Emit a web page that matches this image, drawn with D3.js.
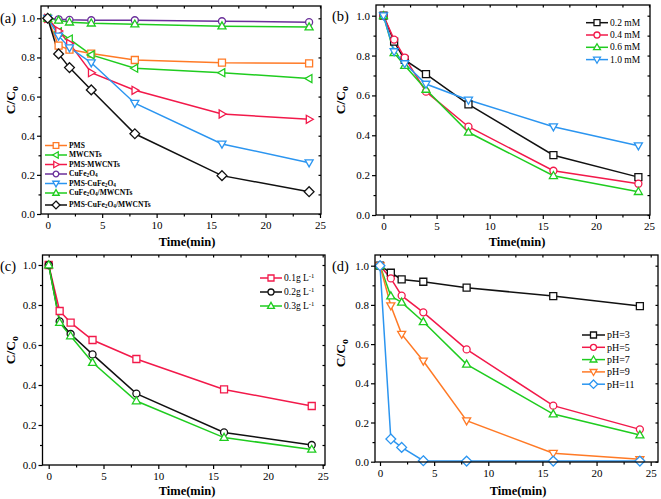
<!DOCTYPE html>
<html><head><meta charset="utf-8">
<script src="https://cdn.jsdelivr.net/npm/d3@7"></script>
<style>body{margin:0;background:#fff}svg{display:block}</style>
</head><body><svg id="c" width="661" height="499"></svg>
<script>
// ---------- data ----------
const times = [0, 1, 2, 4, 8, 16, 24];
const xTicks = [0, 5, 10, 15, 20, 25];
const xMinor = [2.5, 7.5, 12.5, 17.5, 22.5];
const yTicks = [0, 0.2, 0.4, 0.6, 0.8, 1.0];
const yMinor = [0.1, 0.3, 0.5, 0.7, 0.9];
const yTickLabels = ["0.0", "0.2", "0.4", "0.6", "0.8", "1.0"];

// (a)
const aPMS        = [1.0, 0.86, 0.84, 0.82, 0.787, 0.773, 0.77];
const aMWCNTs     = [1.0, 0.93, 0.894, 0.813, 0.745, 0.722, 0.692];
const aPMSMWCNTs  = [1.0, 0.935, 0.872, 0.722, 0.632, 0.511, 0.484];
const aCuFe       = [1.0, 0.995, 0.992, 0.99, 0.99, 0.985, 0.98];
const aPMSCuFe    = [1.0, 0.91, 0.85, 0.773, 0.566, 0.358, 0.262];
const aCuFeMW     = [1.0, 0.99, 0.98, 0.975, 0.97, 0.96, 0.955];
const aPMSCuFeMW  = [1.0, 0.818, 0.748, 0.634, 0.41, 0.196, 0.114];
const aNames = ["PMS", "MWCNTs", "PMS-MWCNTs", "CuFe|2|O|4|", "PMS-CuFe|2|O|4|", "CuFe|2|O|4|/MWCNTs", "PMS-CuFe|2|O|4|/MWCNTs"];

// (b)
const b02 = [1.0, 0.87, 0.778, 0.707, 0.555, 0.30, 0.19];
const b04 = [1.0, 0.88, 0.79, 0.619, 0.443, 0.222, 0.157];
const b06 = [1.0, 0.814, 0.75, 0.63, 0.415, 0.197, 0.117];
const b10 = [1.0, 0.82, 0.76, 0.657, 0.577, 0.443, 0.348];
const bNames = ["0.2 mM", "0.4 mM", "0.6 mM", "1.0 mM"];

// (c)
const c01 = [1.0, 0.77, 0.712, 0.625, 0.53, 0.378, 0.295];
const c02 = [1.0, 0.718, 0.655, 0.553, 0.357, 0.163, 0.10];
const c03 = [1.0, 0.712, 0.645, 0.512, 0.32, 0.137, 0.078];
const cNames = ["0.1g L^-1^", "0.2g L^-1^", "0.3g L^-1^"];

// (d)
const dpH3  = [1.0, 0.964, 0.93, 0.918, 0.888, 0.845, 0.794];
const dpH5  = [1.0, 0.935, 0.847, 0.762, 0.573, 0.286, 0.165];
const dpH7  = [1.0, 0.845, 0.813, 0.714, 0.497, 0.243, 0.136];
const dpH9  = [1.0, 0.796, 0.651, 0.514, 0.209, 0.043, 0.012];
const dpH11 = [1.0, 0.116, 0.073, 0.005, 0.003, 0.003, 0.003];
const dNames = ["pH=3", "pH=5", "pH=7", "pH=9", "pH=11"];

// ---------- styles ----------
const COL = {black:"#111111", red:"#f2194a", green:"#1fcc1f", blue:"#2b95f0", orange:"#ff7a26", purple:"#6a2f9a"};
const FONT = "'Liberation Serif','Times New Roman',serif";

function symPath(type, r) {
  switch (type) {
    case "square": return `M${-r},${-r}h${2*r}v${2*r}h${-2*r}Z`;
    case "circle": return `M${r},0A${r},${r} 0 1 1 ${-r},0A${r},${r} 0 1 1 ${r},0Z`;
    case "up": return `M0,${-r*1.2}L${r*1.15},${r*0.8}L${-r*1.15},${r*0.8}Z`;
    case "down": return `M0,${r*1.2}L${r*1.15},${-r*0.8}L${-r*1.15},${-r*0.8}Z`;
    case "left": return `M${-r*1.2},0L${r*0.8},${-r*1.15}L${r*0.8},${r*1.15}Z`;
    case "right": return `M${r*1.2},0L${-r*0.8},${-r*1.15}L${-r*0.8},${r*1.15}Z`;
    case "diamond": return `M0,${-r*1.4}L${r*1.4},0L0,${r*1.4}L${-r*1.4},0Z`;
  }
}

// write label with |sub| and ^sup^ markup
function richText(sel, str) {
  const parts = str.split(/(\|[^|]*\||\^[^^]*\^)/).filter(s => s.length);
  parts.forEach(p => {
    if (p[0] === "|") sel.append("tspan").attr("baseline-shift", "-28%").attr("font-size", "0.7em").text(p.slice(1, -1));
    else if (p[0] === "^") sel.append("tspan").attr("baseline-shift", "45%").attr("font-size", "0.7em").text(p.slice(1, -1));
    else sel.append("tspan").text(p);
  });
}

const svg = d3.select("#c");

function panel(cfg) {
  const g = svg.append("g");
  const x = d3.scaleLinear().domain([0, 25]).range([cfg.x0, cfg.x25]);
  const y = d3.scaleLinear().domain([0, 1]).range([cfg.y0, cfg.y1]);

  // axes
  const styleAxis = a => {
    a.select(".domain").remove();
    a.selectAll("line").attr("stroke", "#000").attr("stroke-width", 1.2);
    a.selectAll("text").attr("font-family", FONT).attr("font-size", 11).attr("fill", "#000");
  };
  g.append("g").attr("transform", `translate(0,${cfg.B})`)
    .call(d3.axisBottom(x).tickValues(xTicks).tickSize(4).tickPadding(3).tickFormat(d3.format("d"))).call(styleAxis);
  g.append("g").attr("transform", `translate(0,${cfg.B})`)
    .call(d3.axisBottom(x).tickValues(xMinor).tickSize(2.5).tickFormat("")).call(styleAxis);
  g.append("g").attr("transform", `translate(0,${cfg.T})`)
    .call(d3.axisTop(x).tickValues(xTicks.concat(xMinor)).tickSize(-2.5).tickFormat("")).call(styleAxis);
  g.append("g").attr("transform", `translate(${cfg.L},0)`)
    .call(d3.axisLeft(y).tickValues(yTicks).tickSize(4).tickPadding(2).tickFormat((d, i) => yTickLabels[i])).call(styleAxis);
  g.append("g").attr("transform", `translate(${cfg.L},0)`)
    .call(d3.axisLeft(y).tickValues(yMinor).tickSize(2.5).tickFormat("")).call(styleAxis);
  g.append("g").attr("transform", `translate(${cfg.R},0)`)
    .call(d3.axisRight(y).tickValues(yTicks.concat(yMinor)).tickSize(-2.5).tickFormat("")).call(styleAxis);

  // series
  const line = d3.line().x((d, i) => x(times[i])).y(d => y(d));
  cfg.series.forEach(s => {
    g.append("path").datum(s.values).attr("d", line)
      .attr("fill", "none").attr("stroke", s.color).attr("stroke-width", 1.5);
  });
  cfg.series.forEach(s => {
    g.selectAll(null).data(s.values).enter().append("path")
      .attr("transform", (d, i) => `translate(${x(times[i])},${y(d)})`)
      .attr("d", symPath(s.shape, cfg.r || 3.2))
      .attr("fill", "#fff").attr("stroke", s.color).attr("stroke-width", 1.3);
  });

  // frame
  g.append("rect").attr("x", cfg.L).attr("y", cfg.T).attr("width", cfg.R - cfg.L).attr("height", cfg.B - cfg.T)
    .attr("fill", "none").attr("stroke", "#000").attr("stroke-width", 1.3);

  // labels
  g.append("text").attr("x", cfg.xlab[0]).attr("y", cfg.xlab[1]).attr("text-anchor", "middle")
    .attr("font-family", FONT).attr("font-weight", "bold").attr("font-size", 12.5).text("Time(min)");
  const yl = g.append("text").attr("transform", `translate(${cfg.ylab[0]},${cfg.ylab[1]}) rotate(-90)`)
    .attr("text-anchor", "middle").attr("font-family", FONT).attr("font-weight", "bold").attr("font-size", 13.5);
  yl.append("tspan").text("C/C");
  yl.append("tspan").attr("baseline-shift", "-30%").attr("font-size", 10).text("o");
  g.append("text").attr("x", cfg.plab[0]).attr("y", cfg.plab[1]).attr("font-family", FONT)
    .attr("font-size", 14.5).text(cfg.panel);

  // legend
  const lg = cfg.legend;
  cfg.series.forEach((s, i) => {
    const yy = lg.y + i * lg.step + (lg.extra && i === cfg.series.length - 1 ? lg.extra : 0);
    g.append("line").attr("x1", lg.x).attr("x2", lg.x + lg.w).attr("y1", yy).attr("y2", yy)
      .attr("stroke", s.color).attr("stroke-width", 1.5);
    g.append("path").attr("transform", `translate(${lg.x + lg.w / 2},${yy})`)
      .attr("d", symPath(s.shape, lg.r || 3)).attr("fill", "#fff").attr("stroke", s.color).attr("stroke-width", 1.3);
    const t = g.append("text").attr("x", lg.x + lg.w + 2).attr("y", yy + lg.fs * 0.33)
      .attr("font-family", FONT).attr("font-size", lg.fs).attr("font-weight", lg.bold ? "bold" : "normal").attr("fill", "#000");
    richText(t, s.name);
  });
}

panel({
  panel: "(a)", plab: [0, 23], xlab: [187, 246], ylab: [15, 100],
  L: 41, R: 321, T: 6, B: 214, x0: 47.7, x25: 320, y0: 214, y1: 18.3, r: 3.5,
  legend: {x: 45, y: 145.5, step: 9.5, extra: 2.5, w: 22, fs: 7.5, bold: true, r: 2.8},
  series: [
    {name: aNames[0], values: aPMS, color: COL.orange, shape: "square"},
    {name: aNames[1], values: aMWCNTs, color: COL.green, shape: "left"},
    {name: aNames[2], values: aPMSMWCNTs, color: COL.red, shape: "right"},
    {name: aNames[3], values: aCuFe, color: COL.purple, shape: "circle"},
    {name: aNames[4], values: aPMSCuFe, color: COL.blue, shape: "down"},
    {name: aNames[5], values: aCuFeMW, color: COL.green, shape: "up"},
    {name: aNames[6], values: aPMSCuFeMW, color: COL.black, shape: "diamond"}
  ]
});

panel({
  panel: "(b)", plab: [332, 21], xlab: [517, 246], ylab: [345, 100],
  L: 376, R: 650, T: 5, B: 215, x0: 383.5, x25: 649, y0: 215, y1: 15.7, r: 3.5,
  legend: {x: 586, y: 22.7, step: 12.3, w: 22, fs: 9.5, r: 3},
  series: [
    {name: bNames[0], values: b02, color: COL.black, shape: "square"},
    {name: bNames[1], values: b04, color: COL.red, shape: "circle"},
    {name: bNames[2], values: b06, color: COL.green, shape: "up"},
    {name: bNames[3], values: b10, color: COL.blue, shape: "down"}
  ]
});

panel({
  panel: "(c)", plab: [0, 271], xlab: [187, 495], ylab: [15, 350],
  L: 42.5, R: 325, T: 255, B: 465, x0: 48.7, x25: 322.7, y0: 465, y1: 265, r: 3.5,
  legend: {x: 260, y: 278, step: 14, w: 22, fs: 9.5, r: 3},
  series: [
    {name: cNames[0], values: c01, color: COL.red, shape: "square"},
    {name: cNames[1], values: c02, color: COL.black, shape: "circle"},
    {name: cNames[2], values: c03, color: COL.green, shape: "up"}
  ]
});

panel({
  panel: "(d)", plab: [332, 271], xlab: [518, 495], ylab: [345, 353],
  L: 375, R: 658, T: 255, B: 462, x0: 380, x25: 650.7, y0: 461.7, y1: 265.7, r: 3.5,
  legend: {x: 582, y: 335, step: 12.3, w: 23, fs: 10, r: 3},
  series: [
    {name: dNames[0], values: dpH3, color: COL.black, shape: "square"},
    {name: dNames[1], values: dpH5, color: COL.red, shape: "circle"},
    {name: dNames[2], values: dpH7, color: COL.green, shape: "up"},
    {name: dNames[3], values: dpH9, color: COL.orange, shape: "down"},
    {name: dNames[4], values: dpH11, color: COL.blue, shape: "diamond"}
  ]
});
</script></body></html>
